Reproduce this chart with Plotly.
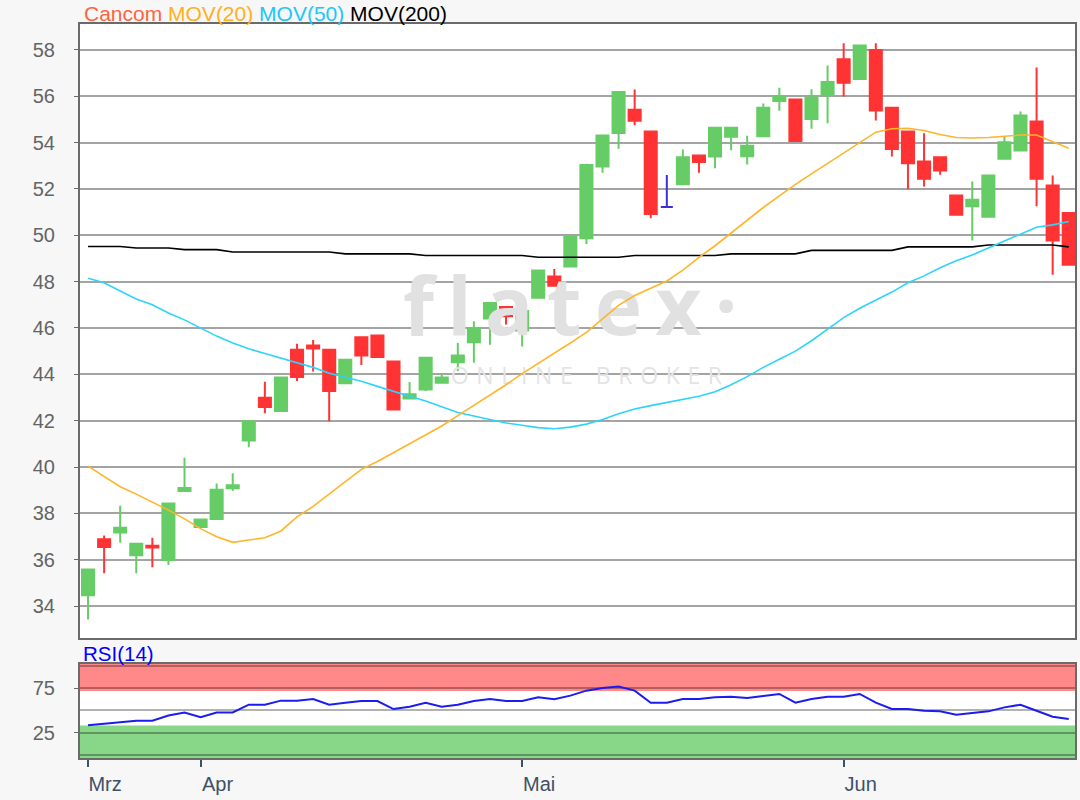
import plotly.graph_objects as go

# ---------------- data ----------------
dates = [
    "2020-03-23", "2020-03-24", "2020-03-25", "2020-03-26", "2020-03-27", "2020-03-30", "2020-03-31",
    "2020-04-01", "2020-04-02", "2020-04-03", "2020-04-06", "2020-04-07", "2020-04-08", "2020-04-09",
    "2020-04-14", "2020-04-15", "2020-04-16", "2020-04-17", "2020-04-20", "2020-04-21", "2020-04-22",
    "2020-04-23", "2020-04-24", "2020-04-27", "2020-04-28", "2020-04-29", "2020-04-30",
    "2020-05-04", "2020-05-05", "2020-05-06", "2020-05-07", "2020-05-08", "2020-05-11", "2020-05-12",
    "2020-05-13", "2020-05-14", "2020-05-15", "2020-05-18", "2020-05-19", "2020-05-20", "2020-05-21",
    "2020-05-22", "2020-05-25", "2020-05-26", "2020-05-27", "2020-05-28", "2020-05-29",
    "2020-06-01", "2020-06-02", "2020-06-03", "2020-06-04", "2020-06-05", "2020-06-08", "2020-06-09",
    "2020-06-10", "2020-06-11", "2020-06-12", "2020-06-15", "2020-06-16", "2020-06-17", "2020-06-18",
    "2020-06-19",
]

opens = [34.47, 36.88, 37.17, 36.19, 36.60, 35.99, 38.96, 37.41, 37.76, 39.08,
         41.14, 42.99, 42.42, 45.06, 45.24, 45.06, 43.62, 45.60, 45.68, 44.55,
         42.96, 43.35, 43.64, 44.52, 45.38, 46.41, 46.91, 45.89, 47.31, 48.22,
         48.65, 49.87, 52.97, 54.42, 55.42, 54.48, 51.22, 52.20, 53.44, 53.40,
         54.25, 53.41, 54.27, 55.80, 55.86, 55.02, 56.04, 57.60, 56.75, 58.00,
         55.51, 54.48, 53.19, 53.37, 51.72, 51.25, 50.80, 53.30, 53.66, 54.91,
         52.15, 50.96]
highs = [35.58, 37.04, 38.33, 36.69, 36.95, 38.42, 40.40, 37.73, 39.29, 39.73,
         41.97, 43.68, 43.86, 45.32, 45.48, 45.06, 44.63, 45.60, 45.68, 44.55,
         43.67, 44.72, 44.00, 45.35, 46.29, 47.08, 46.91, 47.24, 48.48, 48.55,
         49.94, 53.09, 54.31, 56.19, 56.29, 54.48, 52.60, 53.70, 53.44, 54.64,
         54.64, 54.30, 55.69, 56.37, 55.86, 56.30, 57.33, 58.29, 58.19, 58.29,
         55.51, 54.48, 54.41, 53.37, 51.72, 52.32, 52.58, 54.26, 55.34, 57.24,
         52.58, 50.96]
lows = [33.42, 35.41, 36.73, 35.41, 35.67, 35.77, 38.96, 37.41, 37.76, 38.96,
        40.85, 42.32, 42.42, 43.71, 44.12, 41.97, 43.62, 44.40, 44.75, 42.48,
        42.96, 43.28, 43.64, 44.14, 44.50, 45.28, 46.15, 45.20, 47.31, 47.82,
        48.65, 49.62, 52.70, 53.74, 54.75, 50.74, 51.22, 52.20, 52.70, 52.89,
        53.67, 53.06, 54.27, 55.38, 54.07, 54.60, 54.84, 55.99, 56.75, 54.95,
        53.40, 51.99, 52.11, 52.61, 50.89, 49.78, 50.80, 53.30, 53.66, 51.25,
        48.30, 48.73]
closes = [35.58, 36.55, 37.38, 36.69, 36.53, 38.42, 39.09, 37.73, 39.02, 39.21,
          41.97, 42.59, 43.86, 43.88, 45.12, 43.28, 44.63, 44.81, 44.75, 42.48,
          43.14, 44.72, 43.86, 44.81, 45.97, 47.08, 46.51, 46.73, 48.48, 47.82,
          49.94, 53.03, 54.31, 56.19, 54.94, 50.92, 51.22, 53.37, 53.16, 54.64,
          54.64, 53.87, 55.50, 56.00, 54.07, 55.95, 56.62, 56.58, 58.19, 55.39,
          53.73, 53.11, 52.44, 52.80, 50.89, 51.53, 52.58, 54.02, 55.17, 52.44,
          49.78, 48.73]

mov20 = [40.04, 39.58, 39.15, 38.83, 38.50, 38.14, 37.76, 37.34, 36.99, 36.75,
         36.85, 36.95, 37.24, 37.85, 38.30, 38.82, 39.35, 39.90, 40.24, 40.63,
         41.00, 41.38, 41.77, 42.22, 42.66, 43.11, 43.55, 44.03, 44.46, 44.91,
         45.35, 45.81, 46.40, 46.98, 47.40, 47.70, 48.03, 48.50, 49.05, 49.55,
         50.10, 50.65, 51.20, 51.70, 52.20, 52.65, 53.10, 53.55, 54.00, 54.45,
         54.60, 54.62, 54.52, 54.35, 54.22, 54.20, 54.22, 54.28, 54.33, 54.33,
         54.05, 53.76]
mov50 = [48.15, 47.95, 47.60, 47.25, 47.00, 46.65, 46.35, 46.00, 45.65, 45.35,
         45.10, 44.90, 44.70, 44.50, 44.30, 44.05, 43.88, 43.70, 43.48, 43.25,
         43.05, 42.85, 42.60, 42.35, 42.20, 42.05, 41.90, 41.80, 41.70, 41.65,
         41.72, 41.85, 42.05, 42.30, 42.50, 42.65, 42.78, 42.90, 43.05, 43.25,
         43.55, 43.90, 44.30, 44.65, 45.00, 45.45, 45.95, 46.45, 46.85, 47.20,
         47.55, 47.95, 48.25, 48.60, 48.90, 49.15, 49.45, 49.75, 50.05, 50.35,
         50.45, 50.60]
mov200 = [49.52, 49.52, 49.52, 49.45, 49.45, 49.45, 49.38, 49.38, 49.38, 49.28,
          49.28, 49.28, 49.28, 49.28, 49.28, 49.28, 49.20, 49.20, 49.20, 49.20,
          49.20, 49.13, 49.13, 49.13, 49.13, 49.13, 49.13, 49.13, 49.05, 49.05,
          49.05, 49.05, 49.05, 49.05, 49.13, 49.13, 49.13, 49.13, 49.13, 49.13,
          49.20, 49.20, 49.20, 49.20, 49.20, 49.35, 49.35, 49.35, 49.35, 49.35,
          49.35, 49.50, 49.50, 49.50, 49.50, 49.50, 49.58, 49.58, 49.58, 49.58,
          49.58, 49.50]
rsi14 = [33.3, 34.8, 36.7, 38.3, 38.3, 44.3, 47.7, 42.4, 47.7, 47.7,
         56.4, 56.4, 61.0, 61.0, 62.9, 56.4, 58.7, 60.6, 60.6, 51.5,
         54.2, 58.7, 54.2, 56.4, 60.6, 62.9, 60.6, 60.6, 64.8, 62.5,
         66.7, 72.3, 75.4, 76.9, 72.3, 58.7, 58.7, 62.9, 62.9, 64.8,
         65.5, 64.0, 66.3, 68.6, 58.7, 62.9, 65.5, 65.5, 68.6, 58.7,
         51.5, 51.5, 49.6, 48.9, 45.1, 46.6, 48.9, 53.4, 56.4, 49.6,
         42.8, 40.2]

price_ticks = [34, 36, 38, 40, 42, 44, 46, 48, 50, 52, 54, 56, 58]
rsi_ticks = [25, 75]
rsi_grid = [0, 50, 100]
month_labels = ["Mrz", "Apr", "Mai", "Jun"]
overbought = 72
oversold = 33

# ---------------- derived ----------------
month_starts = []
seen = set()
for d in dates:
    if d[:7] not in seen:
        seen.add(d[:7])
        month_starts.append(d)

neutral = [o == c for o, c in zip(opens, closes)]


def keep(vals, mask):
    return [v if m else None for v, m in zip(vals, mask)]


trend = [not n for n in neutral]

FONT = "Liberation Sans, Arial, sans-serif"
GREEN = "#66cc66"
RED = "#ff3333"
THIN = "\u2009"
SP = "\u2004"

fig = go.Figure()

# watermark (drawn first so candles sit over it)
fig.add_trace(go.Scatter(
    x=[dates[30]], y=[46.56], mode="text", text=[THIN.join("flatex\u00b7")],
    textfont=dict(family="Open Sans", size=80, color="#e1e1e1", weight="bold"),
    hoverinfo="skip", showlegend=False, xaxis="x", yaxis="y"))
fig.add_trace(go.Scatter(
    x=[dates[31]], y=[43.84], mode="text",
    text=[SP.join("ONLINE") + SP * 3 + SP.join("BROKER")],
    textfont=dict(family="Open Sans", size=23, color="#e4e4e4"),
    hoverinfo="skip", showlegend=False, xaxis="x", yaxis="y"))

fig.add_trace(go.Candlestick(
    x=dates, open=keep(opens, trend), high=keep(highs, trend),
    low=keep(lows, trend), close=keep(closes, trend),
    increasing=dict(fillcolor=GREEN, line=dict(color=GREEN, width=2)),
    decreasing=dict(fillcolor=RED, line=dict(color=RED, width=2)),
    whiskerwidth=0, showlegend=False, xaxis="x", yaxis="y", hoverinfo="skip"))
fig.add_trace(go.Candlestick(
    x=dates, open=keep(opens, neutral), high=keep(highs, neutral),
    low=keep(lows, neutral), close=keep(closes, neutral),
    increasing=dict(fillcolor="#3f2fd6", line=dict(color="#3f2fd6", width=2)),
    decreasing=dict(fillcolor="#3f2fd6", line=dict(color="#3f2fd6", width=2)),
    whiskerwidth=0, showlegend=False, xaxis="x", yaxis="y", hoverinfo="skip"))

fig.add_trace(go.Scatter(x=dates, y=mov200, mode="lines", line=dict(color="#000000", width=1.6),
                         showlegend=False, xaxis="x", yaxis="y", hoverinfo="skip"))
fig.add_trace(go.Scatter(x=dates, y=mov50, mode="lines", line=dict(color="#2ed3fb", width=1.6),
                         showlegend=False, xaxis="x", yaxis="y", hoverinfo="skip"))
fig.add_trace(go.Scatter(x=dates, y=mov20, mode="lines", line=dict(color="#ffb52a", width=1.6),
                         showlegend=False, xaxis="x", yaxis="y", hoverinfo="skip"))

fig.add_trace(go.Scatter(x=dates, y=rsi14, mode="lines", line=dict(color="#1c1cf0", width=2),
                         showlegend=False, xaxis="x2", yaxis="y2", hoverinfo="skip"))

# geometry
L, R, T, B = 80, 3, 24, 42
H = 800 - T - B
main_bottom = (800 - B - 638) / H
rsi_top = (800 - B - 664) / H

fig.update_layout(
    width=1080, height=800,
    margin=dict(l=L, r=R, t=T, b=B),
    paper_bgcolor="#f7f7f7", plot_bgcolor="#ffffff",
    font=dict(family=FONT, size=20, color="#646464"),
    boxgap=0.25, boxgroupgap=0,
    showlegend=False,
    xaxis=dict(domain=[0, 1], anchor="y", type="category",
               categoryorder="array", categoryarray=dates, range=[-0.5, 61.39],
               showticklabels=False, ticks="", showgrid=False,
               showline=True, mirror=True, linecolor="#6a6a6a", linewidth=2,
               rangeslider=dict(visible=False), fixedrange=True),
    yaxis=dict(domain=[main_bottom, 1], anchor="x", range=[32.62, 59.12],
               tickvals=price_ticks, ticks="outside", ticklen=4, tickcolor="#6a6a6a",
               tickfont=dict(size=20, color="#646464"), ticklabelstandoff=15,
               showgrid=True, gridcolor="#a4a4a4", gridwidth=1.6,
               showline=True, mirror=True, linecolor="#6a6a6a", linewidth=2,
               zeroline=False),
    xaxis2=dict(domain=[0, 1], anchor="y2", type="category", matches="x",
                categoryorder="array", categoryarray=dates,
                tickvals=month_starts, ticktext=month_labels,
                ticks="outside", ticklen=7, tickcolor="#3d5168", tickwidth=1.5,
                tickfont=dict(size=20, color="#3d5168"), ticklabelshift=17,
                showgrid=False, showline=True, mirror=True,
                linecolor="#6a6a6a", linewidth=2),
    yaxis2=dict(domain=[0, rsi_top], anchor="x2", range=[-3.8, 102.4],
                tickvals=rsi_ticks, ticks="outside", ticklen=4, tickcolor="#6a6a6a",
                tickfont=dict(size=20, color="#646464"), ticklabelstandoff=15,
                showgrid=True, gridcolor="rgba(0,0,0,0.3)", gridwidth=1.5,
                minor=dict(tickvals=rsi_grid, showgrid=True, ticks="",
                           gridcolor="rgba(0,0,0,0.3)", gridwidth=1.5),
                showline=True, mirror=True, linecolor="#6a6a6a", linewidth=2,
                zeroline=False),
    shapes=[
        dict(type="rect", xref="x2 domain", x0=0, x1=1, yref="y2",
             y0=overbought, y1=102.4, fillcolor="#ff8888", line=dict(width=0), layer="below"),
        dict(type="rect", xref="x2 domain", x0=0, x1=1, yref="y2",
             y0=-3.8, y1=oversold, fillcolor="#88d688", line=dict(width=0), layer="below"),
    ],
    annotations=[
        dict(xref="paper", yref="paper", x=(82 - L) / 997, y=1 + (T - 13) / H,
             xanchor="left", yanchor="middle", showarrow=False,
             font=dict(family=FONT, size=21),
             text="<span style='color:#ff6440'>Cancom</span> "
                  "<span style='color:#ffb020'>MOV(20)</span> "
                  "<span style='color:#20c8f8'>MOV(50)</span> "
                  "<span style='color:#000000'>MOV(200)</span>"),
        dict(xref="paper", yref="paper", x=(81 - L) / 997, y=(800 - B - 653) / H,
             xanchor="left", yanchor="middle", showarrow=False,
             font=dict(family=FONT, size=20.5, color="#0000ff"), text="RSI(14)"),
    ],
)

fig.write_html("out.html", config={"displayModeBar": False},
               post_script="document.body.style.margin='0px';")
